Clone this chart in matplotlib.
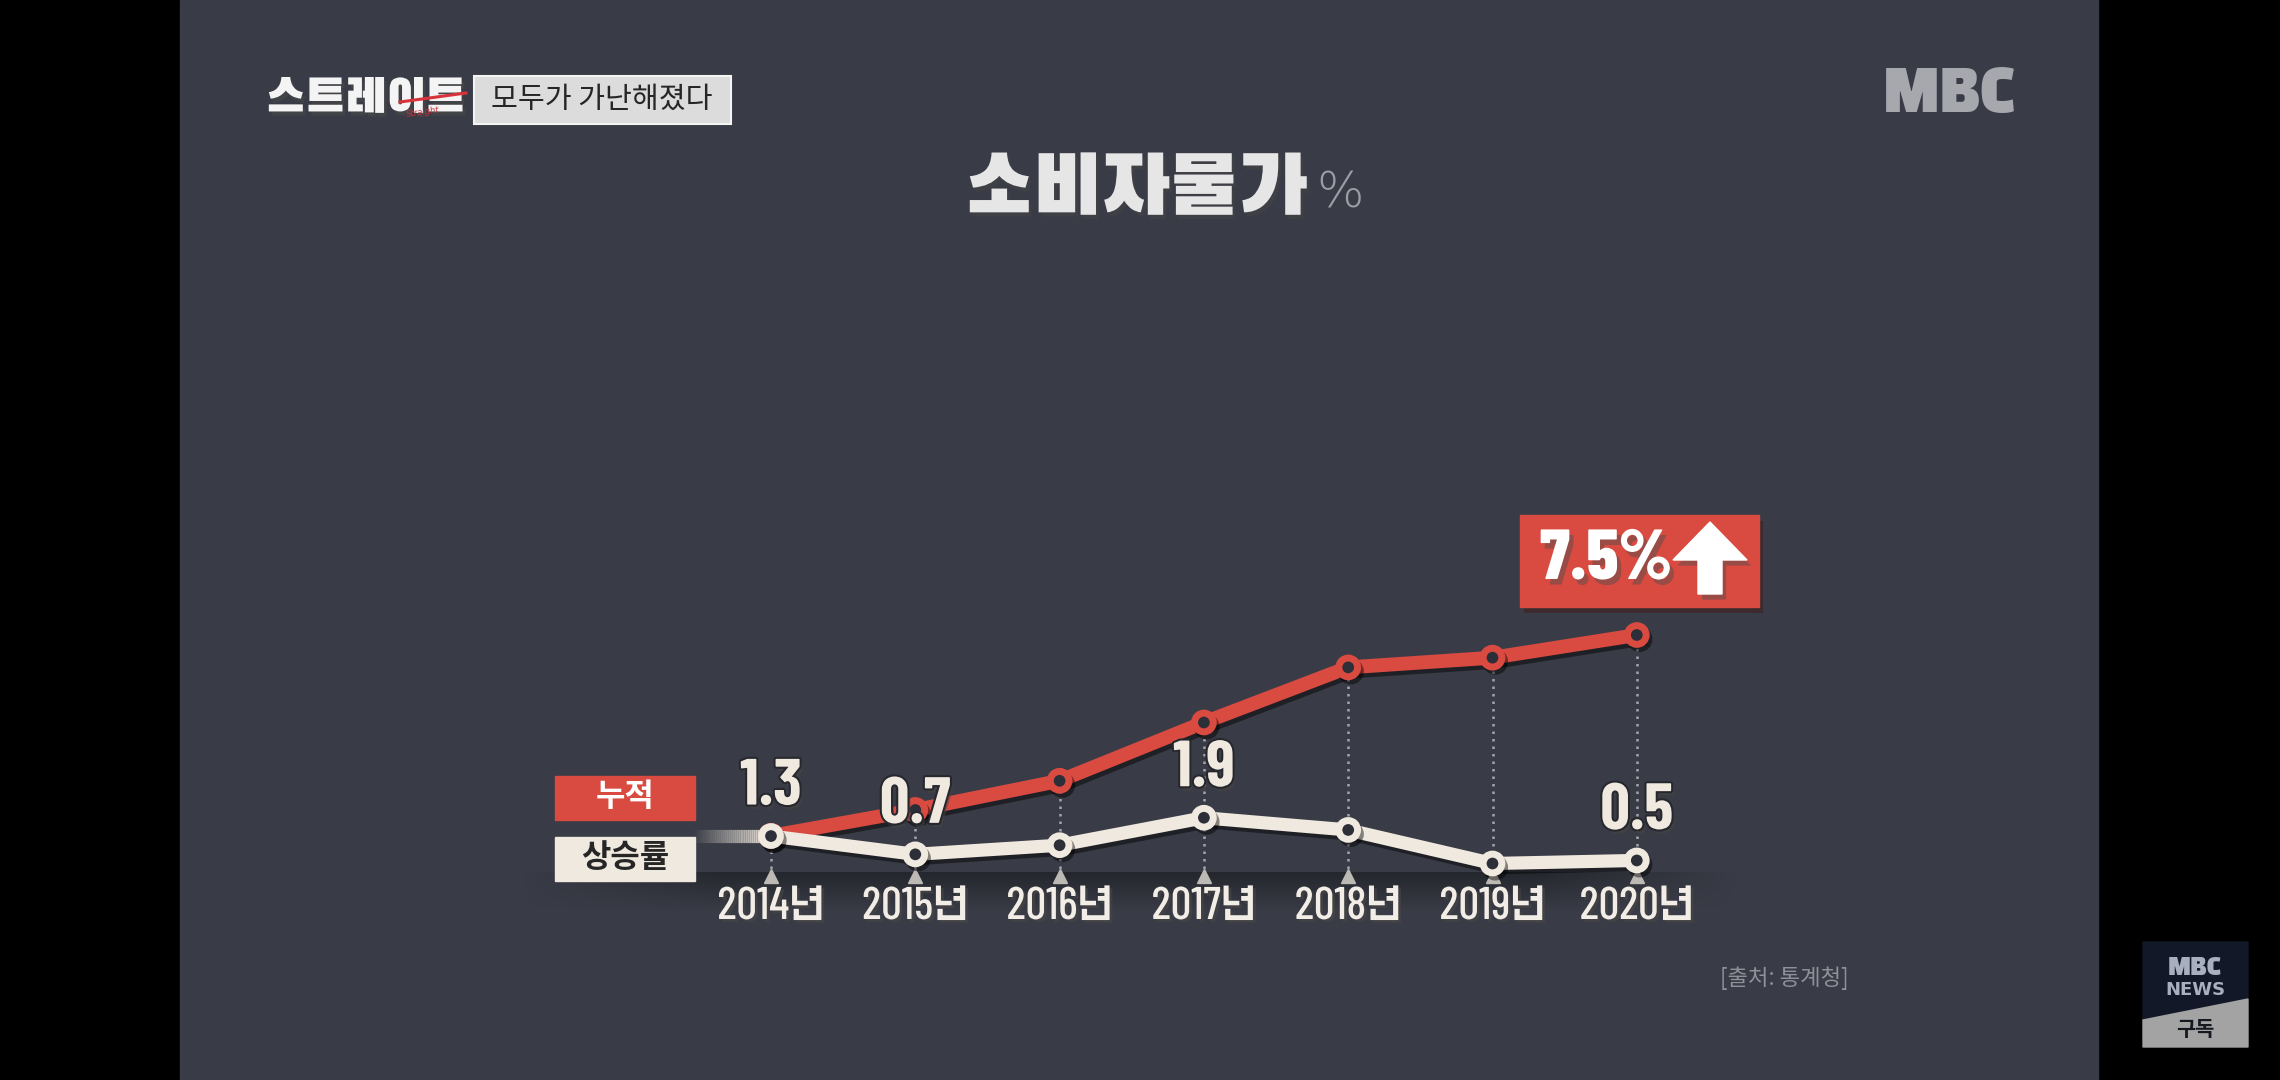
import matplotlib

matplotlib.use("Agg")
import matplotlib.patheffects as pe
import matplotlib.pyplot as plt
import numpy as np
from matplotlib.collections import LineCollection
from matplotlib.patches import Polygon, Rectangle
from matplotlib.transforms import blended_transform_factory

# =========================
# Data
# =========================
years = [2014, 2015, 2016, 2017, 2018, 2019, 2020]
year_labels = ["2014년", "2015년", "2016년", "2017년", "2018년", "2019년", "2020년"]
rate = [1.3, 0.7, 1.0, 1.9, 1.5, 0.4, 0.5]            # 상승률
cumulative = [1.3, 2.1, 3.0, 4.8, 6.5, 6.8, 7.5]      # 누적
labeled_years = [2014, 2015, 2017, 2020]

title = "소비자물가"
title_unit = "%"
program = "스트레이트"
subtitle = "모두가 가난해졌다"
legend_cum = "누적"
legend_rate = "상승률"
source = "[출처: 통계청]"

# =========================
# Layout (pixels of the 2280x1080 frame)
# =========================
W, H = 2280, 1080
FIRST_YEAR_PX, YEAR_STEP_PX = 771.0, 144.3
RATE_ZERO_PX, RATE_UNIT_PX = 875.7, 30.5
CUM_ZERO_PX, CUM_UNIT_PX = 878.0, 32.4

PANEL = "#393c46"
RED = "#d94a41"
CREAM = "#f0e9df"
DOT = "#2c2f37"

KR = ["Noto Sans CJK KR", "DejaVu Sans"]
HEAVY = ["Black Han Sans", "Noto Sans CJK KR", "DejaVu Sans"]
COND = ["Barlow Condensed", "Do Hyeon", "Noto Sans CJK KR", "DejaVu Sans"]
plt.rcParams["font.family"] = KR

fig = plt.figure(figsize=(W / 100, H / 100), dpi=100)
fig.patch.set_facecolor("black")

# background / decoration layer in pixel coordinates (y down)
bg = fig.add_axes([0, 0, 1, 1])
bg.set_xlim(0, W)
bg.set_ylim(H, 0)
bg.set_axis_off()
bg.add_patch(Rectangle((180, 0), 1918, H, color=PANEL, zorder=0))

# soft dark band under the baseline
band = np.zeros((40, 300, 4))
vert = np.linspace(0.35, 0.0, 40)[:, None]
horiz = np.clip(np.minimum(np.linspace(0, 6, 300), np.linspace(6, 0, 300)), 0, 1)[None, :]
band[..., 3] = vert * horiz
bg.imshow(band, extent=(520, 1740, 912, 872), aspect="auto", zorder=1, interpolation="bilinear")

soft_shadow = [pe.SimplePatchShadow(offset=(2, -3), alpha=0.55), pe.Normal()]

# program logo
bg.text(266, 99, program, fontsize=34, family=HEAVY, color="#f4f4f4", ha="left", va="center",
        zorder=3, path_effects=soft_shadow)
bg.plot([400, 466], [102, 93], color="#d8333a", lw=2.2, zorder=4)
bg.text(406, 117, "Straight", color="#c9333a", fontsize=6, style="italic",
        family=["DejaVu Sans"], rotation=8, zorder=4)

# subtitle box
bg.add_patch(Rectangle((474, 76), 257, 48, facecolor="#dcdcdc", edgecolor="#f4f4f4", lw=1.5, zorder=3))
bg.text(602, 100, subtitle, fontsize=21, weight="medium", color="#262626", ha="center", va="center", zorder=4)

# MBC logo
bg.text(1950, 95, "MBC", fontsize=42, family=HEAVY, color="#a6a8ae", ha="center", va="center", zorder=3)

# title
bg.text(1307, 190, title, fontsize=59, family=HEAVY, color="#e6e6e6", ha="right", va="center",
        zorder=3, path_effects=soft_shadow)
bg.text(1316, 194, title_unit, fontsize=36, weight="light", family=["DejaVu Sans"],
        color="#9b9ea5", ha="left", va="center", zorder=3)

# legend tags
bg.add_patch(Rectangle((555, 776), 140, 44, color=RED, zorder=3))
bg.text(625, 797, legend_cum, fontsize=23, weight="bold", color="white", ha="center", va="center", zorder=4)
bg.add_patch(Rectangle((555, 837), 140, 44, color=CREAM, zorder=3))
bg.text(625, 858, legend_rate, fontsize=23, weight="bold", color="#262626", ha="center", va="center", zorder=4)

# cumulative call-out box
shadow = [pe.SimplePatchShadow(offset=(3, -4), alpha=0.45), pe.Normal()]
bg.add_patch(Rectangle((1520, 515), 239, 92, color=RED, zorder=3, path_effects=shadow))
bg.text(1540, 561, f"{cumulative[-1]:.1f}%", fontsize=51, weight="heavy", family=COND,
        color="white", ha="left", va="center", zorder=4, path_effects=shadow)
arrow = [(1710, 522), (1747, 560), (1722, 560), (1722, 594), (1698, 594), (1698, 560), (1673, 560)]
bg.add_patch(Polygon(arrow, closed=True, color="white", zorder=4, path_effects=shadow))

# source
bg.text(1720, 978, source, fontsize=16, color="#8e9199", ha="left", va="center", zorder=3)

# MBC NEWS badge
bg.add_patch(Polygon([(2143, 942), (2248, 942), (2248, 999), (2143, 1020)], color="#121828", zorder=3))
bg.add_patch(Polygon([(2143, 1020), (2248, 999), (2248, 1047), (2143, 1047)], color="#a3a3a3", zorder=3))
bg.text(2195, 968, "MBC", fontsize=17, family=HEAVY, color="#a8b0c0", ha="center", va="center", zorder=4)
bg.text(2195, 990, "NEWS", fontsize=13, weight="bold", family=["DejaVu Sans"], color="#a8b0c0",
        ha="center", va="center", zorder=4)
bg.text(2195, 1030, "구독", fontsize=15, weight="bold", color="#15181f", ha="center", va="center", zorder=4)

# =========================
# Data axes: red (cumulative) below, white (rate) on top
# =========================
ax = fig.add_axes([0, 0, 1, 1], facecolor="none")
ax.set_xlim(years[0] - FIRST_YEAR_PX / YEAR_STEP_PX, years[0] + (W - FIRST_YEAR_PX) / YEAR_STEP_PX)
ax.set_ylim(-(H - CUM_ZERO_PX) / CUM_UNIT_PX, CUM_ZERO_PX / CUM_UNIT_PX)
ax.set_axis_off()

ax2 = ax.twinx()
ax2.set_ylim(-(H - RATE_ZERO_PX) / RATE_UNIT_PX, RATE_ZERO_PX / RATE_UNIT_PX)
ax2.set_axis_off()

baseline_cum = (CUM_ZERO_PX - RATE_ZERO_PX) / CUM_UNIT_PX
ax.vlines(years, baseline_cum, cumulative, colors="#a4a6ad", linestyles=(0, (1, 2)), lw=1.8, zorder=1)

line_shadow = [pe.SimpleLineShadow(offset=(2, -3), alpha=0.45), pe.Normal()]
ax.plot(years, cumulative, color=RED, lw=10, marker="o", ms=13.5, mfc=DOT, mec=RED, mew=5,
        solid_joinstyle="round", zorder=3, path_effects=line_shadow)

ax2.plot(years, [0] * len(years), ls="none", marker="^", ms=10, color="#bdbab5", zorder=1)

# fading lead-in from the legend tag to the first point
lead_x = np.linspace(years[0] - 0.55, years[0], 40)
lead_seg = [[(lead_x[i], rate[0]), (lead_x[i + 1], rate[0])] for i in range(len(lead_x) - 1)]
lead_col = [(0.94, 0.91, 0.87, a) for a in np.linspace(0.0, 1.0, len(lead_seg))]
ax2.add_collection(LineCollection(lead_seg, colors=lead_col, linewidths=9.5, zorder=2))

ax2.plot(years, rate, color=CREAM, lw=9.5, marker="o", ms=13.5, mfc=DOT, mec=CREAM, mew=5,
         solid_joinstyle="round", zorder=3, path_effects=line_shadow)

label_fx = [pe.SimplePatchShadow(offset=(2, -3), alpha=0.55),
            pe.Stroke(linewidth=3, foreground="#26282e"), pe.Normal()]
for yr, val in zip(years, rate):
    if yr in labeled_years:
        ax2.annotate(f"{val:.1f}", (yr, val), xytext=(0, 48), textcoords="offset pixels",
                     ha="center", va="center", fontsize=47, weight="bold", family=COND,
                     color=CREAM, zorder=5, path_effects=label_fx)

year_tf = blended_transform_factory(ax2.transData, bg.transData)
for yr, lab in zip(years, year_labels):
    ax2.text(yr, 907, lab, transform=year_tf, ha="center", va="center", fontsize=33,
             weight="medium", family=COND, color="#f2ede6", zorder=5,
             path_effects=[pe.SimplePatchShadow(offset=(2, -2), alpha=0.6), pe.Normal()])

fig.savefig("out.png", dpi=100, facecolor=fig.get_facecolor())
